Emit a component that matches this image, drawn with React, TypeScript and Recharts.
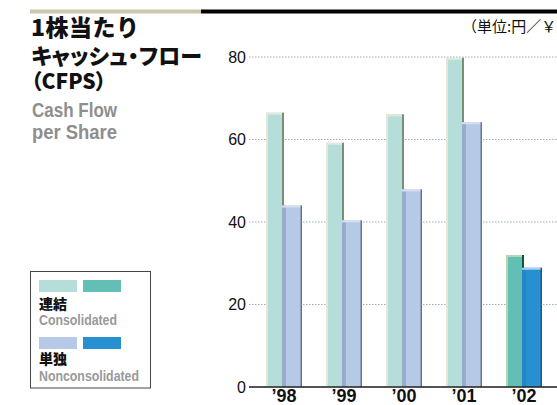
import React from 'react';
import { BarChart, Bar, XAxis, YAxis, CartesianGrid } from 'recharts';

const years = ['’98', '’99', '’00', '’01', '’02'];
const consolidated = [66.5, 59.2, 66.1, 79.8, 32.0];
const nonconsolidated = [44.0, 40.4, 47.9, 64.2, 28.9];
const yTicks = [0, 20, 40, 60, 80];

const data = years.map((y, i) => ({ year: y, cons: consolidated[i], noncons: nonconsolidated[i] }));

const CJK = '"Noto Sans CJK JP", "Noto Sans", sans-serif';
const SANS = '"Liberation Sans", Arial, sans-serif';

const consStyle = {
  normal: { main: '#b5dedb', light: '#e2e8da', dark: '#7a8e78' },
  latest: { main: '#63bfb6', light: '#b4d7b2', dark: '#0a5a2a' },
};
const nonStyle = {
  normal: { main: '#b6c9e6', top: '#d6dff0', left: '#98abcd', dark: '#63769a' },
  latest: { main: '#2690d0', top: '#aecbee', left: '#2586c6', dark: '#1a5b8c' },
};

const ConsShape = (props: any) => {
  const { x, y, width, height, index } = props;
  if (!height || height <= 0) return null;
  const c = index === years.length - 1 ? consStyle.latest : consStyle.normal;
  return (
    <g>
      <rect x={x} y={y} width={width} height={height} fill={c.main} />
      <rect x={x} y={y} width={2} height={height} fill={c.light} />
      <rect x={x} y={y} width={width} height={2} fill={c.light} />
      <rect x={x + width - 2} y={y} width={2} height={height} fill={c.dark} />
    </g>
  );
};

const NonShape = (props: any) => {
  const { x, y, width, height, index } = props;
  if (!height || height <= 0) return null;
  const c = index === years.length - 1 ? nonStyle.latest : nonStyle.normal;
  return (
    <g>
      <rect x={x} y={y} width={width} height={height} fill={c.main} />
      <rect x={x - 2} y={y} width={4} height={height} fill={c.left} />
      <rect x={x - 2} y={y} width={width + 2} height={2} fill={c.top} />
      <rect x={x + width - 1.5} y={y} width={1.5} height={height} fill={c.dark} />
    </g>
  );
};

export default function App() {
  return (
    <div style={{ position: 'absolute', left: 0, top: 0, width: 557, height: 405, background: '#fff', overflow: 'hidden' }}>
      <BarChart
        width={557}
        height={405}
        data={data}
        margin={{ top: 57, right: 0, bottom: 0, left: 0 }}
        barCategoryGap={12}
        barGap={0}
      >
        <CartesianGrid vertical={false} stroke="#9eaaba" strokeDasharray="1.5 1.5" />
        <YAxis
          domain={[0, 80]}
          ticks={yTicks}
          axisLine={false}
          tickLine={false}
          tickSize={0}
          tickMargin={3}
          width={249}
          tick={{ fontSize: 16, fill: '#111', fontFamily: SANS }}
        />
        <XAxis
          dataKey="year"
          axisLine={{ stroke: '#222', strokeWidth: 1.5 }}
          tickLine={false}
          tickSize={0}
          tickMargin={2}
          height={18}
          interval={0}
          padding={{ left: 5, right: 3 }}
          tick={{ fontSize: 18, fontWeight: 700, fill: '#111', fontFamily: SANS }}
        />
        <Bar dataKey="cons" isAnimationActive={false} shape={(p: any) => <ConsShape {...p} />} />
        <Bar dataKey="noncons" isAnimationActive={false} shape={(p: any) => <NonShape {...p} />} />
      </BarChart>
      <svg width={557} height={405} style={{ position: 'absolute', left: 0, top: 0, pointerEvents: 'none' }}>
        <rect x={30} y={9.5} width={171} height={4} fill="#cec6ae" />
        <rect x={201} y={9.5} width={356} height={4} fill="#000" />
        <text x={31} y={36} fontFamily={CJK} fontWeight={900} fontSize={23} letterSpacing={0.5} fill="#111">1株当たり</text>
        <text x={31} y={63.5} fontFamily={CJK} fontWeight={900} fontSize={22} fill="#111" style={{ fontFeatureSettings: '"palt"' }}>キャッシュ・フロー</text>
        <text x={31} y={89} fontFamily={CJK} fontWeight={900} fontSize={21} fill="#111" style={{ fontFeatureSettings: '"palt"' }}>（CFPS）</text>
        <text x={32} y={117} fontFamily={SANS} fontWeight={700} fontSize={21} fill="#8e8e8e" textLength={85} lengthAdjust="spacingAndGlyphs">Cash Flow</text>
        <text x={32} y={139} fontFamily={SANS} fontWeight={700} fontSize={21} fill="#8e8e8e" textLength={85} lengthAdjust="spacingAndGlyphs">per Share</text>
        <text x={462} y={31.5} fontFamily={CJK} fontSize={15} fill="#111">（単位:円／￥）</text>
        <rect x={30.5} y={271.5} width={120} height={116.5} fill="none" stroke="#444" strokeWidth={1} />
        <rect x={39} y={280} width={38} height={12} fill={consStyle.normal.main} />
        <rect x={83} y={280} width={38} height={12} fill={consStyle.latest.main} />
        <text x={39} y={309} fontFamily={CJK} fontWeight={900} fontSize={14} fill="#111">連結</text>
        <text x={39} y={325} fontFamily={SANS} fontWeight={700} fontSize={15} fill="#999" textLength={78} lengthAdjust="spacingAndGlyphs">Consolidated</text>
        <rect x={39} y={337} width={38} height={12} fill={nonStyle.normal.main} />
        <rect x={83} y={337} width={38} height={12} fill={nonStyle.latest.main} />
        <text x={39} y={364} fontFamily={CJK} fontWeight={900} fontSize={14} fill="#111">単独</text>
        <text x={39} y={381} fontFamily={SANS} fontWeight={700} fontSize={15} fill="#999" textLength={100} lengthAdjust="spacingAndGlyphs">Nonconsolidated</text>
      </svg>
    </div>
  );
}
